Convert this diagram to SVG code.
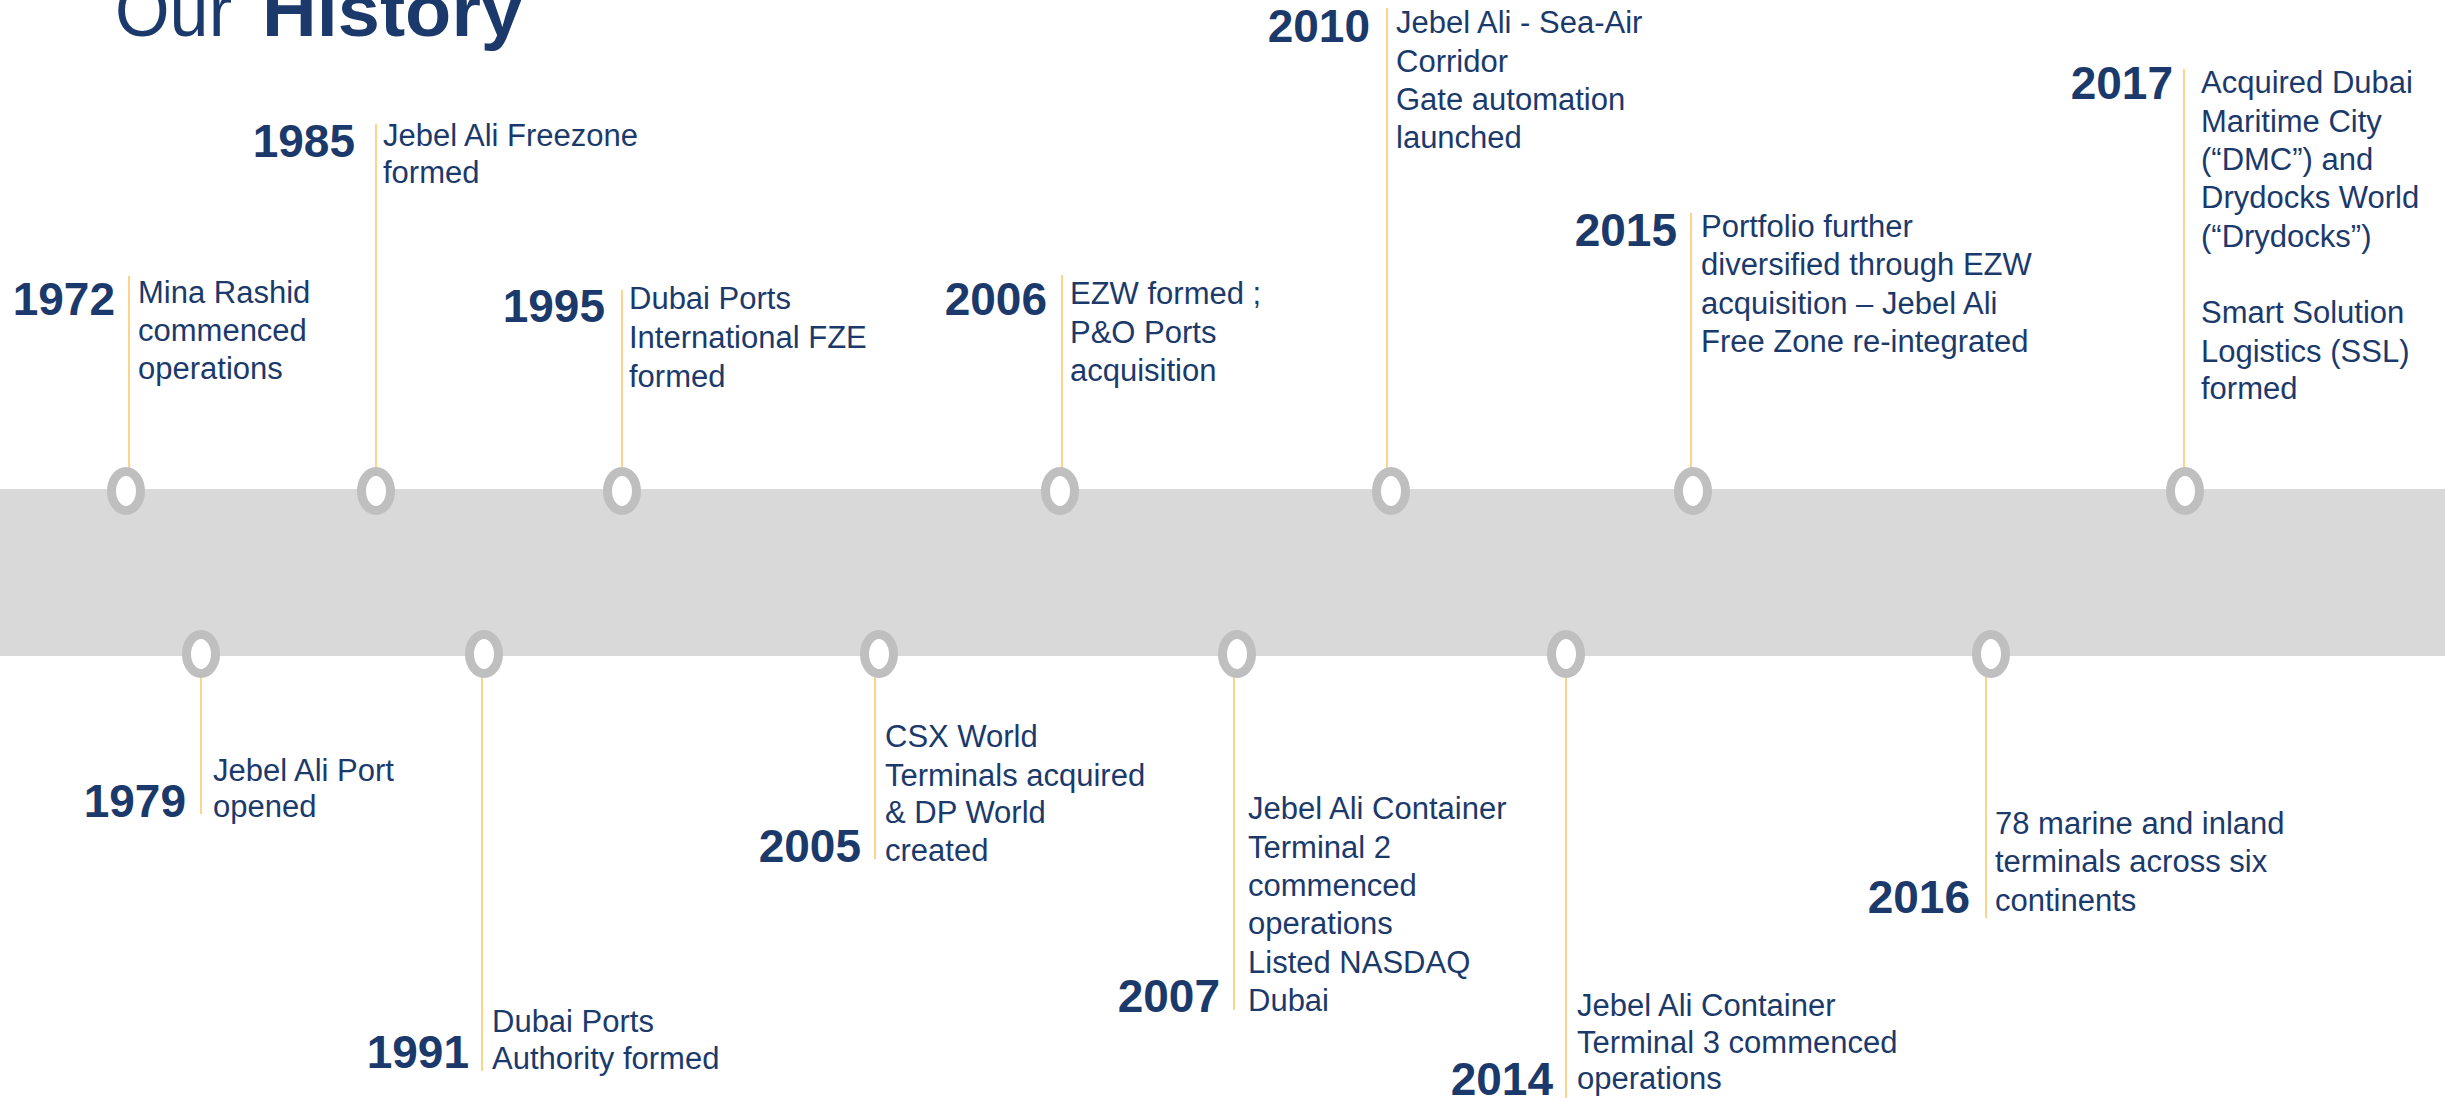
<svg xmlns="http://www.w3.org/2000/svg" width="2445" height="1098" viewBox="0 0 2445 1098">
<style>
.yr{font-family:"Liberation Sans",Arial,sans-serif;font-weight:bold;font-size:46px;fill:#1b3a6b;text-anchor:end}
.ds{font-family:"Liberation Sans",Arial,sans-serif;font-size:31px;fill:#1b3a6b}
.ttl{font-family:"Liberation Sans",Arial,sans-serif;font-size:74px;fill:#1b3a6b}
.dot{fill:#ffffff;stroke:#bfbfbf;stroke-width:9}
.ln{stroke:#fdd48a;stroke-width:2;fill:none}
</style>
<rect width="2445" height="1098" fill="#ffffff"/>
<g id="title">
<text class="ttl" x="115" y="36" textLength="117" lengthAdjust="spacingAndGlyphs">Our</text>
<text class="ttl" x="262" y="36" font-weight="bold" textLength="261" lengthAdjust="spacingAndGlyphs">History</text>
</g>
<rect id="band" x="0" y="489" width="2445" height="167" fill="#d9d9d9"/>
<g id="connectors">
<line class="ln" x1="129" y1="276" x2="129" y2="470"/>
<line class="ln" x1="376" y1="124" x2="376" y2="470"/>
<line class="ln" x1="622" y1="290" x2="622" y2="470"/>
<line class="ln" x1="1062" y1="275" x2="1062" y2="470"/>
<line class="ln" x1="1387" y1="8" x2="1387" y2="470"/>
<line class="ln" x1="1691" y1="213" x2="1691" y2="470"/>
<line class="ln" x1="2184" y1="69" x2="2184" y2="470"/>
<line class="ln" x1="201" y1="676" x2="201" y2="814"/>
<line class="ln" x1="482" y1="676" x2="482" y2="1071"/>
<line class="ln" x1="875" y1="676" x2="875" y2="859"/>
<line class="ln" x1="1234" y1="676" x2="1234" y2="1010"/>
<line class="ln" x1="1566" y1="676" x2="1566" y2="1098"/>
<line class="ln" x1="1986" y1="676" x2="1986" y2="918"/>
</g>
<g id="e1972">
<ellipse class="dot" cx="126" cy="491" rx="14.5" ry="19.5"/>
<text class="yr" x="115" y="315">1972</text>
<text class="ds" x="138" y="303">Mina Rashid</text>
<text class="ds" x="138" y="341">commenced</text>
<text class="ds" x="138" y="379">operations</text>
</g>
<g id="e1985">
<ellipse class="dot" cx="376" cy="491" rx="14.5" ry="19.5"/>
<text class="yr" x="355" y="157">1985</text>
<text class="ds" x="383" y="146">Jebel Ali Freezone</text>
<text class="ds" x="383" y="183">formed</text>
</g>
<g id="e1995">
<ellipse class="dot" cx="622" cy="491" rx="14.5" ry="19.5"/>
<text class="yr" x="605" y="322">1995</text>
<text class="ds" x="629" y="309">Dubai Ports</text>
<text class="ds" x="629" y="348">International FZE</text>
<text class="ds" x="629" y="387">formed</text>
</g>
<g id="e2006">
<ellipse class="dot" cx="1060" cy="491" rx="14.5" ry="19.5"/>
<text class="yr" x="1047" y="315">2006</text>
<text class="ds" x="1070" y="304">EZW formed ;</text>
<text class="ds" x="1070" y="343">P&amp;O Ports</text>
<text class="ds" x="1070" y="381">acquisition</text>
</g>
<g id="e2010">
<ellipse class="dot" cx="1391" cy="491" rx="14.5" ry="19.5"/>
<text class="yr" x="1370" y="42">2010</text>
<text class="ds" x="1396" y="33">Jebel Ali - Sea-Air</text>
<text class="ds" x="1396" y="72">Corridor</text>
<text class="ds" x="1396" y="110">Gate automation</text>
<text class="ds" x="1396" y="148">launched</text>
</g>
<g id="e2015">
<ellipse class="dot" cx="1693" cy="491" rx="14.5" ry="19.5"/>
<text class="yr" x="1677" y="246">2015</text>
<text class="ds" x="1701" y="237">Portfolio further</text>
<text class="ds" x="1701" y="275">diversified through EZW</text>
<text class="ds" x="1701" y="314">acquisition – Jebel Ali</text>
<text class="ds" x="1701" y="352">Free Zone re-integrated</text>
</g>
<g id="e2017">
<ellipse class="dot" cx="2185" cy="491" rx="14.5" ry="19.5"/>
<text class="yr" x="2173" y="99">2017</text>
<text class="ds" x="2201" y="93">Acquired Dubai</text>
<text class="ds" x="2201" y="132">Maritime City</text>
<text class="ds" x="2201" y="170">(“DMC”) and</text>
<text class="ds" x="2201" y="208">Drydocks World</text>
<text class="ds" x="2201" y="247">(“Drydocks”)</text>
<text class="ds" x="2201" y="323">Smart Solution</text>
<text class="ds" x="2201" y="362">Logistics (SSL)</text>
<text class="ds" x="2201" y="399">formed</text>
</g>
<g id="e1979">
<ellipse class="dot" cx="201" cy="654" rx="14.5" ry="19.5"/>
<text class="yr" x="186" y="817">1979</text>
<text class="ds" x="213" y="781">Jebel Ali Port</text>
<text class="ds" x="213" y="817">opened</text>
</g>
<g id="e1991">
<ellipse class="dot" cx="484" cy="654" rx="14.5" ry="19.5"/>
<text class="yr" x="469" y="1068">1991</text>
<text class="ds" x="492" y="1032">Dubai Ports</text>
<text class="ds" x="492" y="1069">Authority formed</text>
</g>
<g id="e2005">
<ellipse class="dot" cx="879" cy="654" rx="14.5" ry="19.5"/>
<text class="yr" x="861" y="862">2005</text>
<text class="ds" x="885" y="747">CSX World</text>
<text class="ds" x="885" y="786">Terminals acquired</text>
<text class="ds" x="885" y="823">&amp; DP World</text>
<text class="ds" x="885" y="861">created</text>
</g>
<g id="e2007">
<ellipse class="dot" cx="1237" cy="654" rx="14.5" ry="19.5"/>
<text class="yr" x="1220" y="1012">2007</text>
<text class="ds" x="1248" y="819">Jebel Ali Container</text>
<text class="ds" x="1248" y="858">Terminal 2</text>
<text class="ds" x="1248" y="896">commenced</text>
<text class="ds" x="1248" y="934">operations</text>
<text class="ds" x="1248" y="973">Listed NASDAQ</text>
<text class="ds" x="1248" y="1011">Dubai</text>
</g>
<g id="e2014">
<ellipse class="dot" cx="1566" cy="654" rx="14.5" ry="19.5"/>
<text class="yr" x="1553" y="1095">2014</text>
<text class="ds" x="1577" y="1016">Jebel Ali Container</text>
<text class="ds" x="1577" y="1053">Terminal 3 commenced</text>
<text class="ds" x="1577" y="1089">operations</text>
</g>
<g id="e2016">
<ellipse class="dot" cx="1991" cy="654" rx="14.5" ry="19.5"/>
<text class="yr" x="1970" y="913">2016</text>
<text class="ds" x="1995" y="834">78 marine and inland</text>
<text class="ds" x="1995" y="872">terminals across six</text>
<text class="ds" x="1995" y="911">continents</text>
</g>
</svg>
